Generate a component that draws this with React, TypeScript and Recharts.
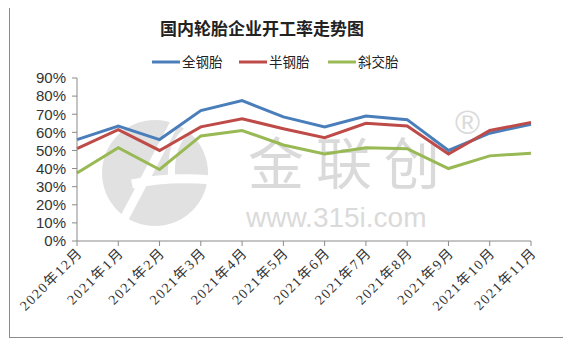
import { LineChart, Line, XAxis, YAxis } from "recharts";

// 开工率, share of capacity (0-1)
const months = [
  "2020年12月", "2021年1月", "2021年2月", "2021年3月", "2021年4月", "2021年5月",
  "2021年6月", "2021年7月", "2021年8月", "2021年9月", "2021年10月", "2021年11月",
];
const allSteel = [0.56, 0.635, 0.56, 0.72, 0.775, 0.685, 0.63, 0.69, 0.67, 0.50, 0.595, 0.645];
const semiSteel = [0.51, 0.615, 0.50, 0.63, 0.675, 0.62, 0.57, 0.65, 0.635, 0.48, 0.61, 0.655];
const biasPly = [0.375, 0.515, 0.395, 0.58, 0.61, 0.53, 0.48, 0.515, 0.51, 0.40, 0.47, 0.485];
const yTicks = [0, 0.1, 0.2, 0.3, 0.4, 0.5, 0.6, 0.7, 0.8, 0.9];

const series = [
  { key: "全钢胎", values: allSteel, color: "#4a7ebb" },
  { key: "半钢胎", values: semiSteel, color: "#be4b48" },
  { key: "斜交胎", values: biasPly, color: "#98b954" },
];

const data = months.map((m, i) => {
  const row: Record<string, string | number> = { month: m };
  series.forEach((s) => (row[s.key] = s.values[i]));
  return row;
});

const MonthTick = (props: any) => {
  const { x, y, payload } = props;
  return (
    <g transform={`translate(${x + 3},${y + 2}) rotate(-45)`}>
      <text
        textAnchor="end"
        dy="0.35em"
        fontSize={14}
        letterSpacing={1.5}
        fill="#333"
        fontFamily="'Liberation Serif', 'Noto Sans CJK SC', serif"
      >
        {payload.value}
      </text>
    </g>
  );
};

// faint company mark behind the plot
const Watermark = () => (
  <svg width={571} height={347} style={{ position: "absolute", left: 0, top: 0 }}>
    <circle cx={155} cy={173} r={53} fill="#e1e1e1" />
    <path d="M176 120 Q150 170 118 230" stroke="#fff" strokeWidth={9} fill="none" />
    <path d="M132 184 Q170 176 212 180" stroke="#fff" strokeWidth={9} fill="none" />
    <path d="M172 182 Q168 140 192 128" stroke="#fff" strokeWidth={7} fill="none" />
    <text
      x={248}
      y={184}
      fontSize={56}
      letterSpacing={12}
      fill="#dadada"
      fontFamily="'Noto Sans CJK SC', sans-serif"
    >
      金联创
    </text>
    <text x={246} y={227} fontSize={28} fill="#dadada" fontFamily="'Liberation Sans', Arial, sans-serif">
      www.315i.com
    </text>
    <text x={455} y={134} fontSize={34} fill="#dadada" fontFamily="'Liberation Sans', Arial, sans-serif">
      ®
    </text>
  </svg>
);

const Header = () => (
  <svg width={571} height={80} style={{ position: "absolute", left: 0, top: 0 }}>
    <text
      x={262}
      y={35}
      textAnchor="middle"
      fontSize={17}
      fontWeight="bold"
      fill="#222"
      fontFamily="'Noto Sans CJK SC', sans-serif"
    >
      国内轮胎企业开工率走势图
    </text>
    {series.map((s, i) => {
      const x0 = [152, 239, 328][i];
      return (
        <g key={s.key}>
          <line x1={x0} x2={x0 + 28} y1={62} y2={62} stroke={s.color} strokeWidth={3} />
          <text
            x={x0 + 30}
            y={67}
            fontSize={13.5}
            fill="#222"
            fontFamily="'Noto Sans CJK SC', sans-serif"
          >
            {s.key}
          </text>
        </g>
      );
    })}
  </svg>
);

export default function App() {
  return (
    <div style={{ position: "relative", width: 571, height: 347, margin: -8, background: "#fff" }}>
      <div
        style={{
          position: "absolute",
          left: 9,
          top: 5,
          width: 554,
          height: 331,
          border: "1px solid #8a8a8a",
        }}
      />
      <Watermark />
      <Header />
      <div style={{ position: "absolute", left: 0, top: 0 }}>
        <LineChart
          width={571}
          height={347}
          data={data}
          margin={{ top: 78, right: 40, left: 0, bottom: 26 }}
        >
          <XAxis
            dataKey="month"
            padding={{ left: 0, right: 0 }}
            interval={0}
            height={80}
            tickSize={5}
            tickMargin={2}
            stroke="#8a8a8a"
            tick={<MonthTick />}
            scale="point"
          />
          <YAxis
            width={77}
            domain={[0, 0.9]}
            ticks={yTicks}
            interval={0}
            tickSize={5}
            tickMargin={6}
            stroke="#8a8a8a"
            tickFormatter={(v: number) => `${Math.round(v * 100)}%`}
            tick={{
              fontSize: 15,
              fill: "#333",
              fontFamily: "'Liberation Sans', Arial, sans-serif",
            }}
          />
          {series.map((s) => (
            <Line
              key={s.key}
              dataKey={s.key}
              stroke={s.color}
              strokeWidth={3}
              dot={false}
              isAnimationActive={false}
              type="linear"
            />
          ))}
        </LineChart>
      </div>
    </div>
  );
}
